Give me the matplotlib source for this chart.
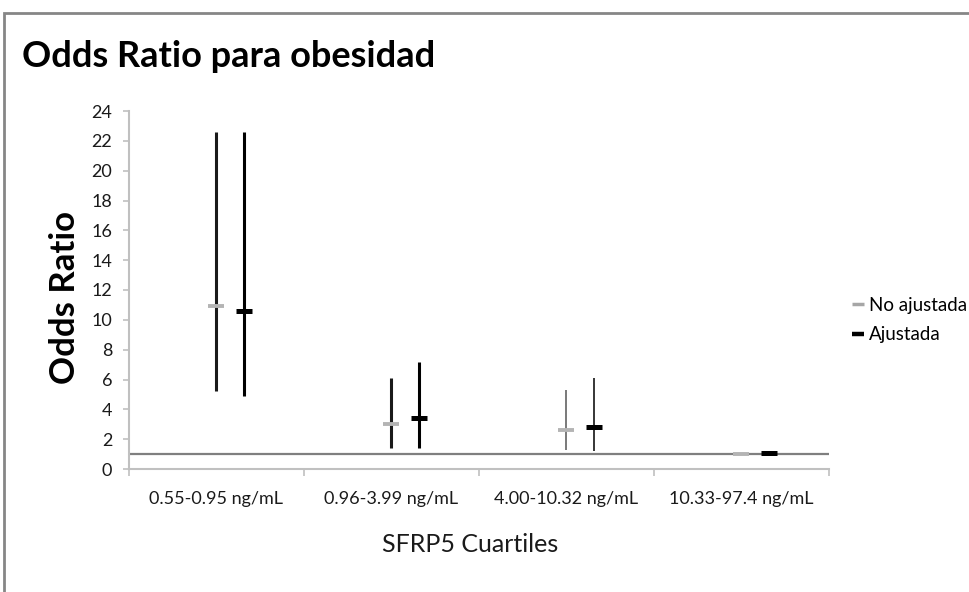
import matplotlib
matplotlib.use("Agg")
import matplotlib.pyplot as plt
from matplotlib.lines import Line2D
from matplotlib.patches import Rectangle

# Quartiles of SFRP5 and odds ratios (high / low / point estimate)
categories = ["0.55-0.95 ng/mL", "0.96-3.99 ng/mL", "4.00-10.32 ng/mL", "10.33-97.4 ng/mL"]

crude_high = [22.6, 6.1, 5.3, 1.0]
crude_low = [5.2, 1.4, 1.3, 1.0]
crude_or = [10.9, 3.0, 2.6, 1.0]

adj_high = [22.6, 7.2, 6.1, 1.0]
adj_low = [4.9, 1.4, 1.2, 1.0]
adj_or = [10.6, 3.4, 2.8, 1.1]

series_names = ["No ajustada", "Ajustada"]
yticks = list(range(0, 25, 2))
reference_or = 1.0

plt.rcParams["font.family"] = ["Lato", "DejaVu Sans"]

fig = plt.figure(figsize=(9.7, 5.92), dpi=100)
fig.patch.set_facecolor("white")

# outer chart frame (left and top edges visible)
fig.add_artist(Rectangle((4 / 970, -0.1), 1.2, (592 - 13) / 592 + 0.1,
                         transform=fig.transFigure, fill=False,
                         edgecolor="#868686", linewidth=2.0))

ax = fig.add_axes([129 / 970, 1 - 469 / 592, 700 / 970, 358 / 592])
ax.set_xlim(-0.5, len(categories) - 0.5)
ax.set_ylim(0, 24)

offset = 0.16
line_w = [2.2, 2.2, 1.1, 2.2]
crude_line_col = ["#1a1a1a", "#1a1a1a", "#555555", "#1a1a1a"]

for i in range(len(categories)):
    ax.vlines(i, crude_low[i], crude_high[i], color=crude_line_col[i],
              linewidth=line_w[i], zorder=3)
    ax.vlines(i + offset, adj_low[i], adj_high[i], color="black",
              linewidth=line_w[i], zorder=3)

ax.plot(range(len(categories)), crude_or, linestyle="none", marker="_",
        markersize=11, markeredgewidth=2.8, color="#b4b4b4", zorder=4)
ax.plot([i + offset for i in range(len(categories))], adj_or, linestyle="none",
        marker="_", markersize=12, markeredgewidth=3.6, color="black", zorder=4)

# reference line at OR = 1
ax.axhline(reference_or, color="#7f7f7f", linewidth=1.6, zorder=2)

for side in ["top", "right"]:
    ax.spines[side].set_visible(False)
for side in ["left", "bottom"]:
    ax.spines[side].set_color("#c0c0c0")
    ax.spines[side].set_linewidth(1.5)

ax.set_yticks(yticks)
ax.set_yticklabels([str(v) for v in yticks], fontsize=13, color="#1a1a1a")
ax.tick_params(axis="y", length=4, width=1.2, color="#c0c0c0", pad=8)

ax.set_xticks(range(len(categories)))
ax.set_xticklabels(categories, fontsize=13, color="#1a1a1a")
ax.tick_params(axis="x", which="major", length=0, pad=16)
ax.set_xticks([i - 0.5 for i in range(len(categories) + 1)], minor=True)
ax.tick_params(axis="x", which="minor", length=5, width=1.2, color="#c0c0c0")

ax.set_xlabel("SFRP5 Cuartiles", fontsize=18, color="#1a1a1a")
ax.xaxis.set_label_coords(0.487, -0.178)
ax.set_ylabel("Odds Ratio", fontsize=25, fontweight="bold")
ax.yaxis.set_label_coords(-0.068, 0.48)

fig.text(22 / 970, 1 - 67 / 592, "Odds Ratio para obesidad", fontsize=26,
         fontweight="bold", ha="left", va="baseline")

handles = [
    Line2D([], [], linestyle="none", marker="_", markersize=9,
           markeredgewidth=2.5, color="#a6a6a6"),
    Line2D([], [], linestyle="none", marker="_", markersize=9,
           markeredgewidth=3.2, color="black"),
]
fig.legend(handles, series_names, loc="upper left",
           bbox_to_anchor=(850 / 970, 1 - 297 / 592), frameon=False,
           fontsize=13.5, handlelength=0.85, handletextpad=0.15,
           labelspacing=0.65, borderaxespad=0, borderpad=0)

fig.savefig("out.png", dpi=100)
